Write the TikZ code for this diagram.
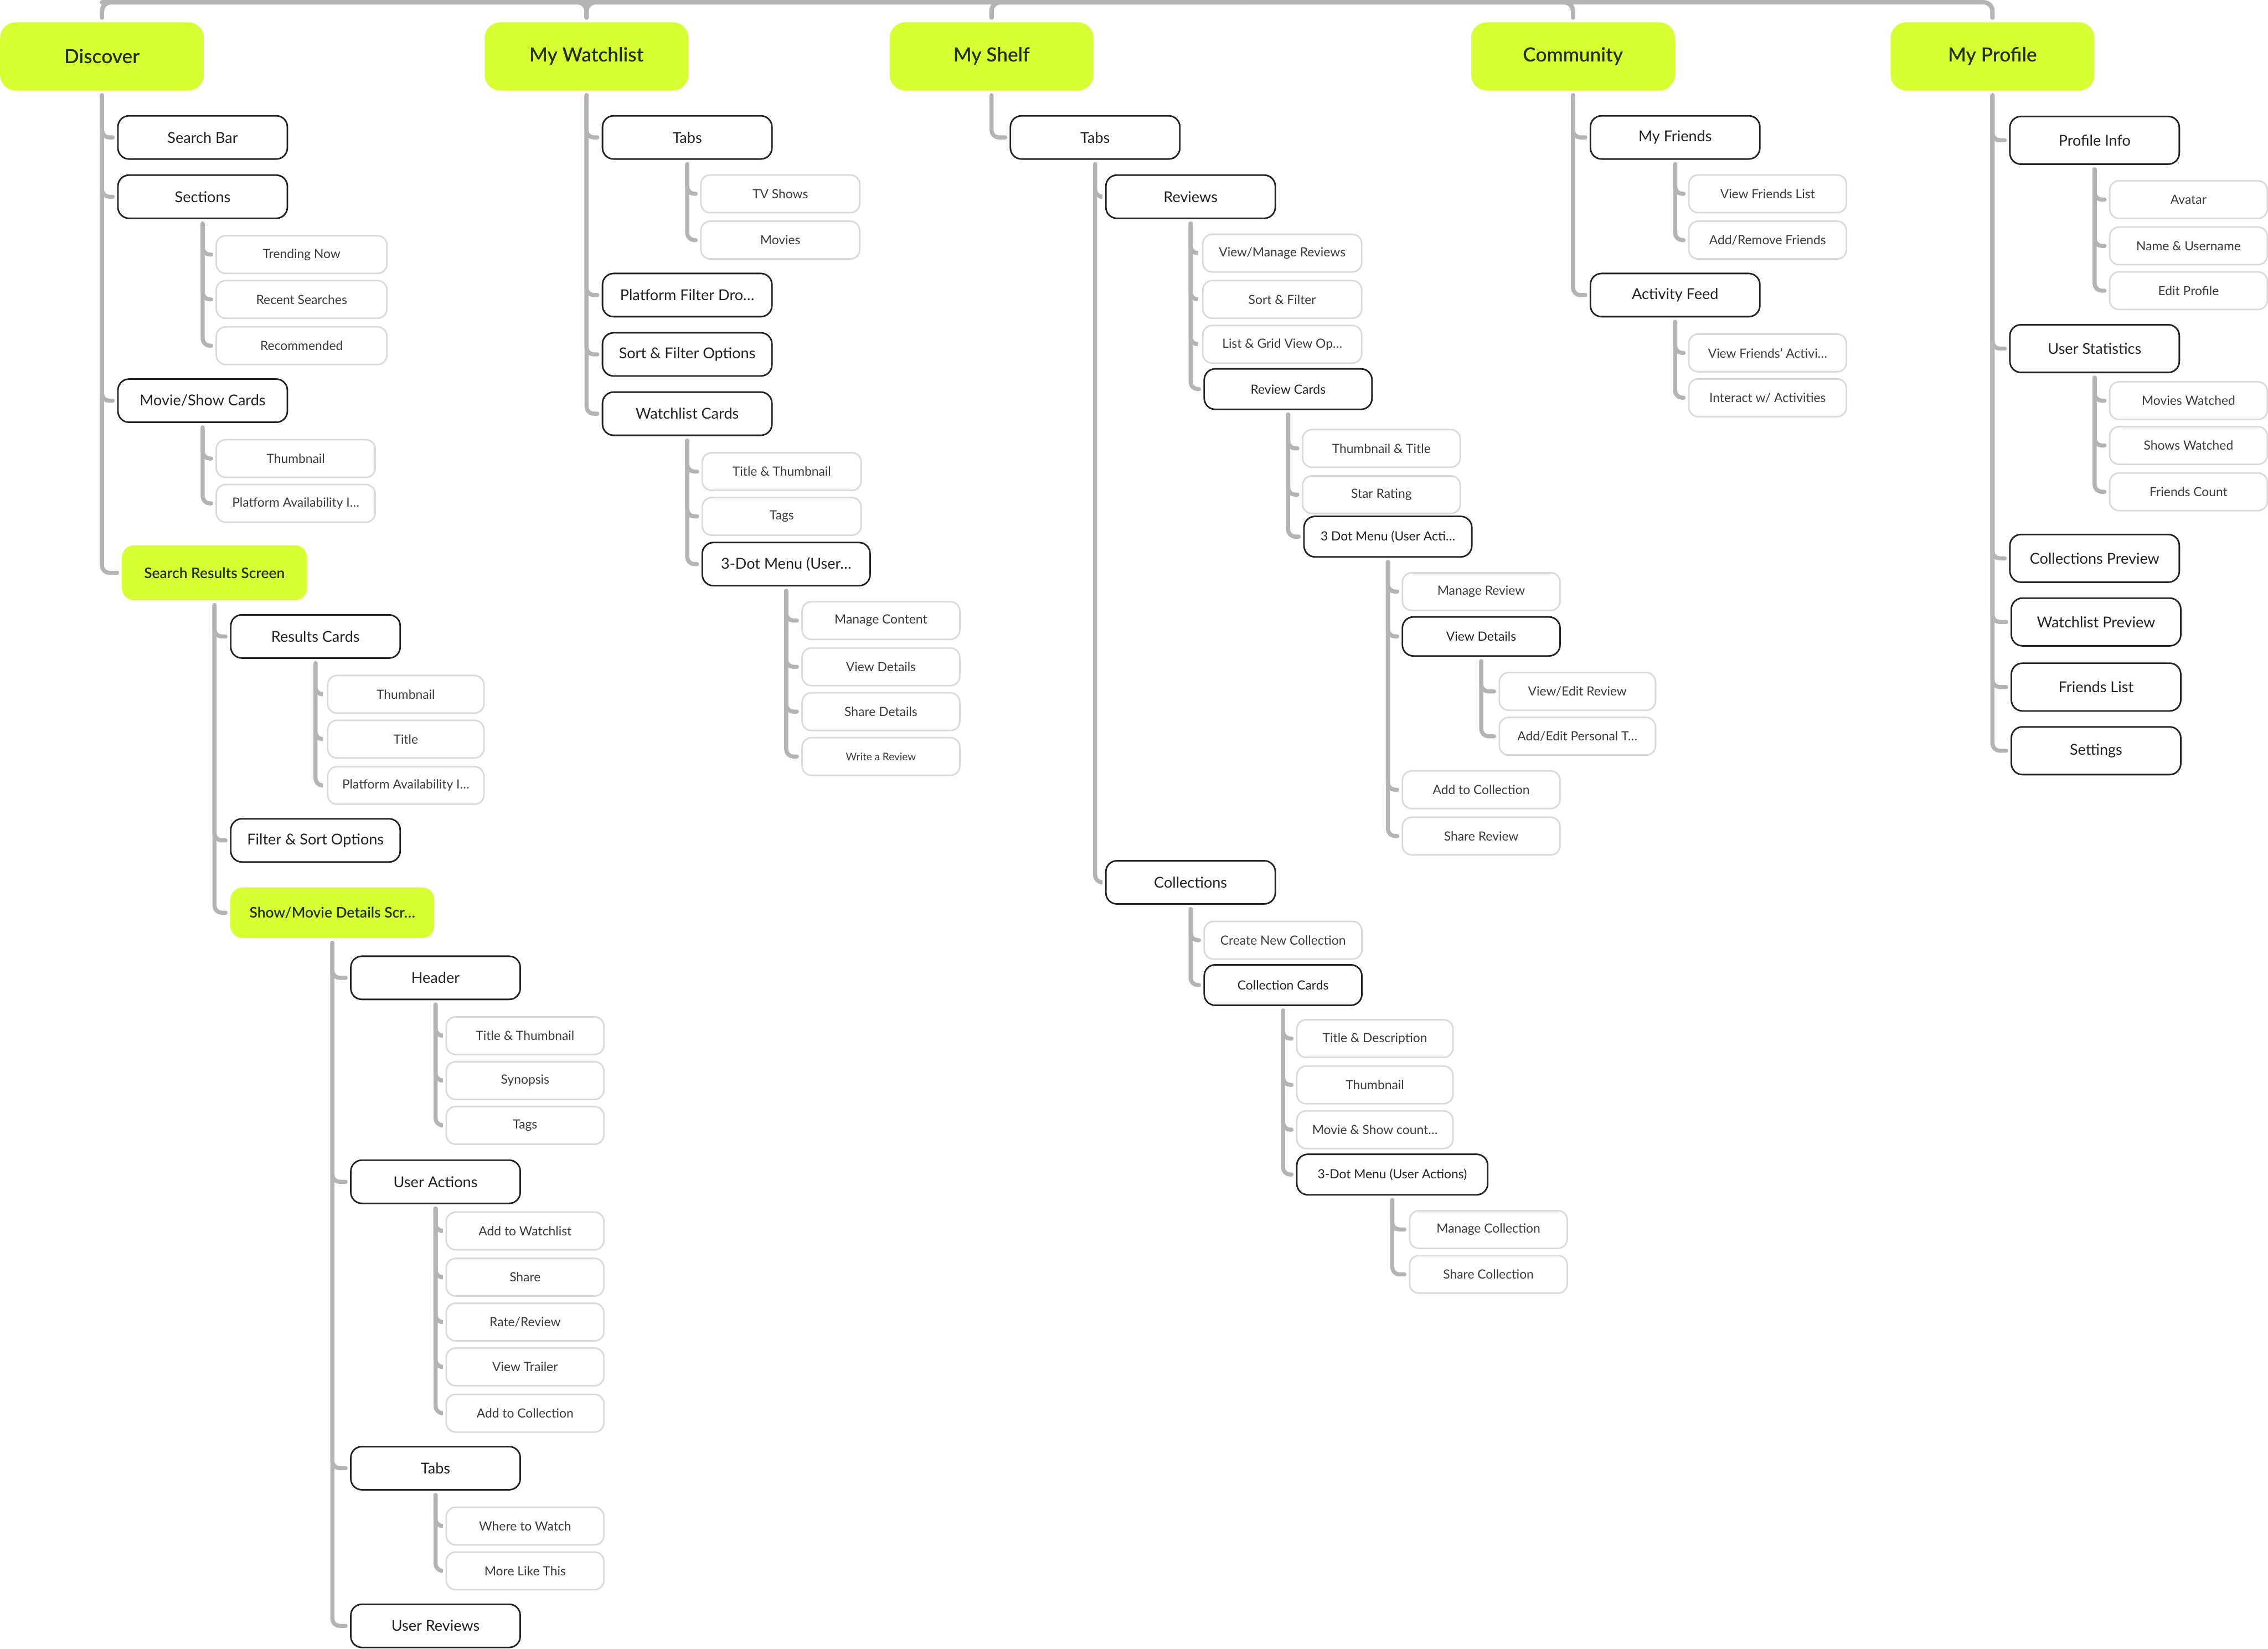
\documentclass[tikz,border=0pt]{standalone}
\usepackage{fontspec}
\setmainfont{Lato}[BoldFont={Lato Semibold}]
\usepackage{xcolor}
\usepackage{tikz}
\definecolor{MapGreen}{HTML}{D6FF34}
\definecolor{MapInk}{HTML}{222222}
\definecolor{MapLeafInk}{HTML}{3A3A3A}
\definecolor{MapScreenInk}{HTML}{26300C}
\definecolor{MapLink}{HTML}{B4B4B4}
\definecolor{MapLeafEdge}{HTML}{DADADA}
\newcommand{\TopLabel}{\fontsize{10.0}{11.0}\selectfont\bfseries}
\newcommand{\ScreenLabel}{\fontsize{7.5}{8.3}\selectfont\bfseries}
\newcommand{\SectionLabel}{\fontsize{7.7}{8.5}\selectfont}
\newcommand{\LeafLabel}{\fontsize{6.5}{7.2}\selectfont}
\newcommand{\TinyLabel}{\fontsize{5.4}{6.0}\selectfont}
\tikzset{
  w/.style={minimum width={#1*0.02612cm}},
  h/.style={minimum height={#1*0.02612cm}},
  top page/.style={fill=MapGreen,rounded corners=0.28cm,minimum width=3.68cm,
    minimum height=1.23cm,text=MapScreenInk,font=\TopLabel},
  screen page/.style={fill=MapGreen,rounded corners=0.22cm,anchor=west,
    text=MapScreenInk,font=\ScreenLabel},
  section box/.style={draw=MapInk,line width=0.8pt,rounded corners=0.2cm,anchor=west,
    minimum width=3.06cm,minimum height=0.78cm,text=MapInk,font=\SectionLabel},
  leaf box/.style={draw=MapLeafEdge,line width=0.8pt,rounded corners=0.17cm,anchor=west,
    minimum width=2.87cm,minimum height=0.68cm,text=MapLeafInk,font=\LeafLabel},
  link/.style={draw=MapLink,line width=2.1pt,line cap=round,rounded corners=0.13cm},
  bus link/.style={draw=MapLink,line width=2.3pt,line cap=round,rounded corners=0.16cm}
}

\begin{document}
\begin{tikzpicture}[x=0.02612cm,y=-0.02612cm]
  % units are pixels of the 1568 x 1140 sketch
  \path[use as bounding box] (0,0) rectangle (1568,1140);

  \newcommand{\sectionbox}[5][]{\node[section box,#1] (#2) at (#3,#4) {#5};}
  \newcommand{\leafbox}[5][]{\node[leaf box,#1] (#2) at (#3,#4) {#5};}
  \newcommand{\branch}[2]{%
    \foreach \kid in {#2}{%
      \draw[link] ([yshift=-0.08cm]#1.south) |- ([xshift=-0.08cm]\kid.west);}%
  }

  % main pages
  \node[top page] (discover)  at (70.5,39)  {Discover};
  \node[top page] (watchlist) at (405.5,39) {My Watchlist};
  \node[top page] (shelf)     at (685.5,39) {My Shelf};
  \node[top page] (community) at (1087.5,39) {Community};
  \node[top page] (profile)   at (1377.5,39) {My Profile};

  \coordinate (hub) at (860,1.6);
  \foreach \pg in {discover,watchlist,shelf,community,profile}
    \draw[bus link] (hub) -| ([yshift=0.08cm]\pg.north);
  \draw[bus link] (hub -| discover.north) -| ([yshift=0.08cm]watchlist.north);

  % Discover
  \sectionbox{searchbar}{81}{95}{Search Bar}
  \sectionbox{sections}{81}{136}{Sections}
  \leafbox[w=118]{trending}{149}{176}{Trending Now}
  \leafbox[w=118]{recent}{149}{207}{Recent Searches}
  \leafbox[w=118]{recommended}{149}{239}{Recommended}
  \sectionbox{showcards}{81}{277}{Movie/Show Cards}
  \leafbox{thumbA}{149}{317}{Thumbnail}
  \leafbox{platformA}{149}{348}{Platform Availability I\dots}
  \node[screen page,w=128,h=38] (results) at (84,396) {Search Results Screen};
  \sectionbox{resultcards}{159}{440}{Results Cards}
  \leafbox[w=108]{thumbB}{226}{480}{Thumbnail}
  \leafbox[w=108]{titleB}{226}{511}{Title}
  \leafbox[w=108]{platformB}{226}{543}{Platform Availability I\dots}
  \sectionbox{filtersort}{159}{581}{Filter \& Sort Options}
  \node[screen page,w=141,h=35] (details) at (159,631) {Show/Movie Details Scr\dots};
  \sectionbox{header}{242}{676}{Header}
  \leafbox[w=109]{titleC}{308}{716}{Title \& Thumbnail}
  \leafbox[w=109]{synopsis}{308}{747}{Synopsis}
  \leafbox[w=109]{tagsC}{308}{778}{Tags}
  \sectionbox{actions}{242}{817}{User Actions}
  \leafbox[w=109]{addwatch}{308}{851}{Add to Watchlist}
  \leafbox[w=109]{share}{308}{883}{Share}
  \leafbox[w=109]{rate}{308}{914}{Rate/Review}
  \leafbox[w=109]{trailer}{308}{945}{View Trailer}
  \leafbox[w=109]{addcollA}{308}{977}{Add to Collection}
  \sectionbox{tabsA}{242}{1015}{Tabs}
  \leafbox[w=109]{where}{308}{1055}{Where to Watch}
  \leafbox[w=109]{morelike}{308}{1086}{More Like This}
  \sectionbox{userreviews}{242}{1124}{User Reviews}

  % My Watchlist
  \sectionbox{tabsB}{416}{95}{Tabs}
  \leafbox{tvshows}{484}{134}{TV Shows}
  \leafbox{movies}{484}{166}{Movies}
  \sectionbox{platformfilter}{416}{204}{Platform Filter Dro\dots}
  \sectionbox{sortfilterA}{416}{245}{Sort \& Filter Options}
  \sectionbox{watchcards}{416}{286}{Watchlist Cards}
  \leafbox{titleD}{485}{326}{Title \& Thumbnail}
  \leafbox{tagsD}{485}{357}{Tags}
  \sectionbox[w=116]{dotmenuA}{485}{390}{3-Dot Menu (User\dots}
  \leafbox[w=109]{managecontent}{554}{429}{Manage Content}
  \leafbox[w=109]{viewdetailsA}{554}{461}{View Details}
  \leafbox[w=109]{sharedetails}{554}{492}{Share Details}
  \leafbox[w=109,font=\TinyLabel]{writereview}{554}{523}{Write a Review}

  % My Shelf
  \sectionbox{tabsC}{698}{95}{Tabs}
  \sectionbox{reviews}{764}{136}{Reviews}
  \leafbox{viewmanage}{831}{175}{View/Manage Reviews}
  \leafbox{sortfilterB}{831}{207}{Sort \& Filter}
  \leafbox{listgrid}{831}{238}{List \& Grid View Op\dots}
  \sectionbox[w=116,h=28,font=\LeafLabel]{reviewcards}{832}{269}{Review Cards}
  \leafbox[w=109]{thumbtitle}{900}{310}{Thumbnail \& Title}
  \leafbox[w=109]{starrating}{900}{342}{Star Rating}
  \sectionbox[w=116,h=28,font=\LeafLabel]{dotmenuB}{901}{371}{3 Dot Menu (User Acti\dots}
  \leafbox[w=109]{managereview}{969}{409}{Manage Review}
  \sectionbox[w=109,h=27,font=\LeafLabel]{viewdetailsB}{969}{440}{View Details}
  \leafbox[w=108]{viewedit}{1036}{478}{View/Edit Review}
  \leafbox[w=108]{personal}{1036}{509}{Add/Edit Personal T\dots}
  \leafbox[w=109]{addcollB}{969}{546}{Add to Collection}
  \leafbox[w=109]{sharereview}{969}{578}{Share Review}
  \sectionbox{collections}{764}{610}{Collections}
  \leafbox[w=109]{createnew}{832}{650}{Create New Collection}
  \sectionbox[w=109,h=28,font=\LeafLabel]{collcards}{832}{681}{Collection Cards}
  \leafbox[w=108]{titledesc}{896}{718}{Title \& Description}
  \leafbox[w=108]{thumbE}{896}{750}{Thumbnail}
  \leafbox[w=108]{showcount}{896}{781}{Movie \& Show count\dots}
  \sectionbox[w=132,h=28,font=\LeafLabel]{dotmenuC}{896}{812}{3-Dot Menu (User Actions)}
  \leafbox[w=109]{managecoll}{974}{850}{Manage Collection}
  \leafbox[w=109]{sharecoll}{974}{881}{Share Collection}

  % Community
  \sectionbox{myfriends}{1099}{95}{My Friends}
  \leafbox[w=109]{viewfriends}{1167}{134}{View Friends List}
  \leafbox[w=109]{addremove}{1167}{166}{Add/Remove Friends}
  \sectionbox{feed}{1099}{204}{Activity Feed}
  \leafbox[w=109]{friendsact}{1167}{244}{View Friends' Activi\dots}
  \leafbox[w=109]{interact}{1167}{275}{Interact w/ Activities}

  % My Profile
  \sectionbox[h=33]{profileinfo}{1389}{97}{Profile Info}
  \leafbox[w=109]{avatar}{1458}{138}{Avatar}
  \leafbox[w=109]{nameuser}{1458}{170}{Name \& Username}
  \leafbox[w=109]{editprofile}{1458}{201}{Edit Profile}
  \sectionbox[h=33]{stats}{1389}{241}{User Statistics}
  \leafbox[w=109]{movieswatched}{1458}{277}{Movies Watched}
  \leafbox[w=109]{showswatched}{1458}{308}{Shows Watched}
  \leafbox[w=109]{friendscount}{1458}{340}{Friends Count}
  \sectionbox[h=33]{collpreview}{1389}{386}{Collections Preview}
  \sectionbox[h=33]{watchpreview}{1390}{430}{Watchlist Preview}
  \sectionbox[h=33]{friendslist}{1390}{475}{Friends List}
  \sectionbox[h=33]{settings}{1390}{519}{Settings}

  % tree links
  \branch{discover}{searchbar,sections,showcards,results}
  \branch{sections}{trending,recent,recommended}
  \branch{showcards}{thumbA,platformA}
  \branch{results}{resultcards,filtersort,details}
  \branch{resultcards}{thumbB,titleB,platformB}
  \branch{details}{header,actions,tabsA,userreviews}
  \branch{header}{titleC,synopsis,tagsC}
  \branch{actions}{addwatch,share,rate,trailer,addcollA}
  \branch{tabsA}{where,morelike}
  \branch{watchlist}{tabsB,platformfilter,sortfilterA,watchcards}
  \branch{tabsB}{tvshows,movies}
  \branch{watchcards}{titleD,tagsD,dotmenuA}
  \branch{dotmenuA}{managecontent,viewdetailsA,sharedetails,writereview}
  \branch{shelf}{tabsC}
  \branch{tabsC}{reviews,collections}
  \branch{reviews}{viewmanage,sortfilterB,listgrid,reviewcards}
  \branch{reviewcards}{thumbtitle,starrating,dotmenuB}
  \branch{dotmenuB}{managereview,viewdetailsB,addcollB,sharereview}
  \branch{viewdetailsB}{viewedit,personal}
  \branch{collections}{createnew,collcards}
  \branch{collcards}{titledesc,thumbE,showcount,dotmenuC}
  \branch{dotmenuC}{managecoll,sharecoll}
  \branch{community}{myfriends,feed}
  \branch{myfriends}{viewfriends,addremove}
  \branch{feed}{friendsact,interact}
  \branch{profile}{profileinfo,stats,collpreview,watchpreview,friendslist,settings}
  \branch{profileinfo}{avatar,nameuser,editprofile}
  \branch{stats}{movieswatched,showswatched,friendscount}
\end{tikzpicture}
\end{document}
